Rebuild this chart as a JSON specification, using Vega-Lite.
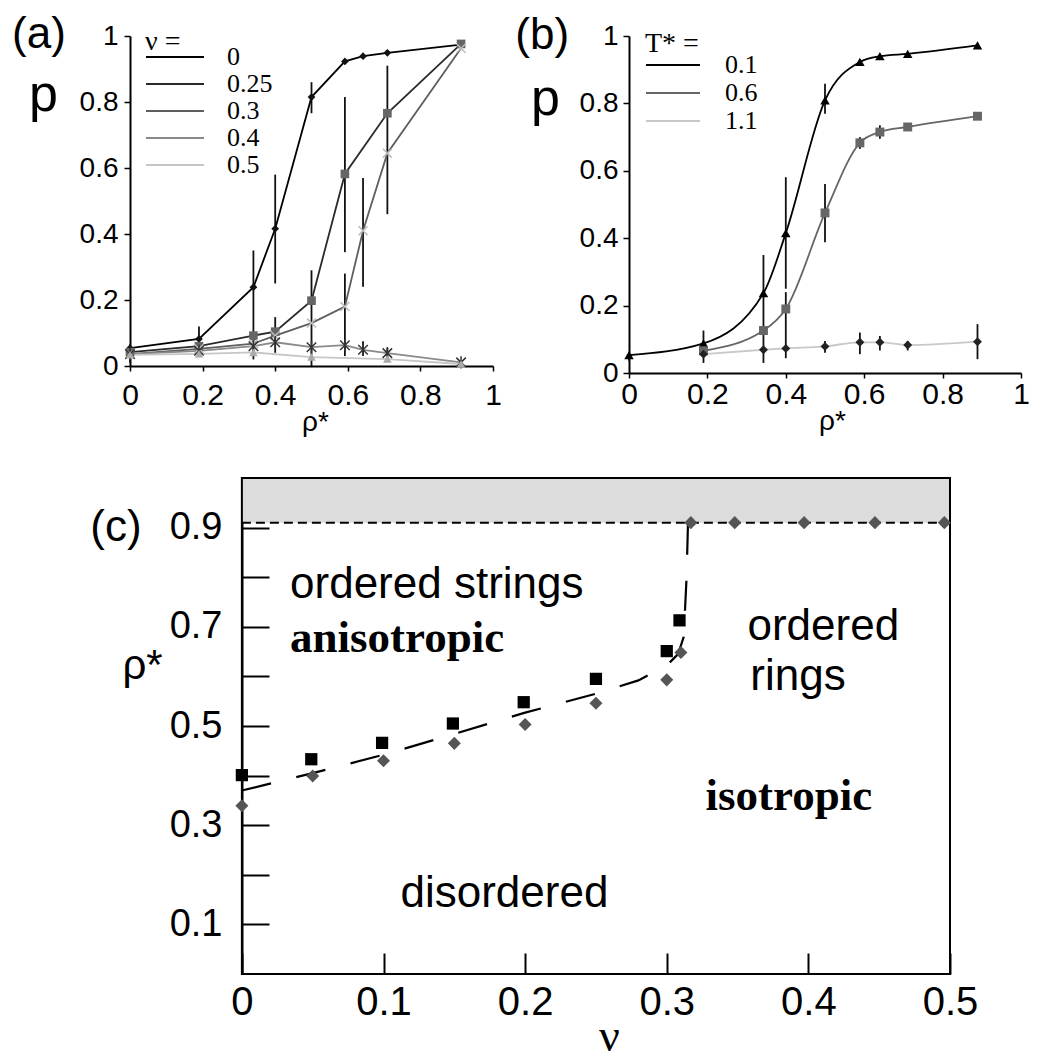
{
  "$schema": "https://vega.github.io/schema/vega-lite/v6.json",
  "background": "white",
  "padding": {"left": 12, "top": 13, "right": 4, "bottom": 0},
  "config": {
    "view": {"stroke": null},
    "font": "Liberation Sans",
    "axis": {"grid": false, "domainColor": "black", "tickColor": "black", "labelColor": "black", "titleColor": "black", "domainWidth": 2, "tickWidth": 1.5, "labelFont": "Liberation Sans", "titleFont": "Liberation Sans", "titleFontWeight": "normal", "labelFlush": false, "labelOverlap": false},
    "legend": {"labelColor": "black", "titleColor": "black"}
  },
  "datasets": {
    "a_curves": [
      {"nu": "0", "rho": 0, "p": 0.054}, {"nu": "0", "rho": 0.19, "p": 0.082}, {"nu": "0", "rho": 0.34, "p": 0.239}, {"nu": "0", "rho": 0.40, "p": 0.416}, {"nu": "0", "rho": 0.50, "p": 0.815}, {"nu": "0", "rho": 0.592, "p": 0.923}, {"nu": "0", "rho": 0.642, "p": 0.939}, {"nu": "0", "rho": 0.709, "p": 0.949}, {"nu": "0", "rho": 0.912, "p": 0.974},
      {"nu": "0.25", "rho": 0, "p": 0.042}, {"nu": "0.25", "rho": 0.19, "p": 0.06}, {"nu": "0.25", "rho": 0.34, "p": 0.092}, {"nu": "0.25", "rho": 0.40, "p": 0.104}, {"nu": "0.25", "rho": 0.50, "p": 0.198}, {"nu": "0.25", "rho": 0.592, "p": 0.582}, {"nu": "0.25", "rho": 0.709, "p": 0.766}, {"nu": "0.25", "rho": 0.912, "p": 0.976},
      {"nu": "0.3", "rho": 0, "p": 0.036}, {"nu": "0.3", "rho": 0.19, "p": 0.052}, {"nu": "0.3", "rho": 0.34, "p": 0.068}, {"nu": "0.3", "rho": 0.40, "p": 0.092}, {"nu": "0.3", "rho": 0.50, "p": 0.13}, {"nu": "0.3", "rho": 0.592, "p": 0.18}, {"nu": "0.3", "rho": 0.642, "p": 0.41}, {"nu": "0.3", "rho": 0.709, "p": 0.645}, {"nu": "0.3", "rho": 0.912, "p": 0.963},
      {"nu": "0.4", "rho": 0, "p": 0.036}, {"nu": "0.4", "rho": 0.19, "p": 0.046}, {"nu": "0.4", "rho": 0.34, "p": 0.06}, {"nu": "0.4", "rho": 0.40, "p": 0.072}, {"nu": "0.4", "rho": 0.50, "p": 0.057}, {"nu": "0.4", "rho": 0.592, "p": 0.063}, {"nu": "0.4", "rho": 0.642, "p": 0.049}, {"nu": "0.4", "rho": 0.709, "p": 0.039}, {"nu": "0.4", "rho": 0.912, "p": 0.011},
      {"nu": "0.5", "rho": 0, "p": 0.034}, {"nu": "0.5", "rho": 0.19, "p": 0.037}, {"nu": "0.5", "rho": 0.34, "p": 0.041}, {"nu": "0.5", "rho": 0.50, "p": 0.027}, {"nu": "0.5", "rho": 0.709, "p": 0.021}, {"nu": "0.5", "rho": 0.912, "p": 0.006}
    ],
    "a_err": [
      {"rho": 0, "p": 0.01, "p_hi": 0.066},
      {"rho": 0.19, "p": 0.04, "p_hi": 0.12},
      {"rho": 0.34, "p": 0.02, "p_hi": 0.35},
      {"rho": 0.40, "p": 0.25, "p_hi": 0.58},
      {"rho": 0.50, "p": 0.766, "p_hi": 0.86},
      {"rho": 0.40, "p": 0.04, "p_hi": 0.148},
      {"rho": 0.50, "p": 0.0, "p_hi": 0.29},
      {"rho": 0.592, "p": 0.345, "p_hi": 0.815},
      {"rho": 0.709, "p": 0.46, "p_hi": 0.91},
      {"rho": 0.592, "p": 0.03, "p_hi": 0.28},
      {"rho": 0.642, "p": 0.24, "p_hi": 0.57},
      {"rho": 0.642, "p": 0.03, "p_hi": 0.075},
      {"rho": 0.709, "p": 0.025, "p_hi": 0.055}
    ],
    "b_curves": [
      {"T": "0.1", "rho": 0, "p": 0.053}, {"T": "0.1", "rho": 0.19, "p": 0.088}, {"T": "0.1", "rho": 0.343, "p": 0.237}, {"T": "0.1", "rho": 0.40, "p": 0.415}, {"T": "0.1", "rho": 0.50, "p": 0.809}, {"T": "0.1", "rho": 0.589, "p": 0.923}, {"T": "0.1", "rho": 0.64, "p": 0.94}, {"T": "0.1", "rho": 0.711, "p": 0.947}, {"T": "0.1", "rho": 0.889, "p": 0.972},
      {"T": "0.6", "rho": 0.19, "p": 0.066}, {"T": "0.6", "rho": 0.343, "p": 0.126}, {"T": "0.6", "rho": 0.40, "p": 0.19}, {"T": "0.6", "rho": 0.50, "p": 0.475}, {"T": "0.6", "rho": 0.589, "p": 0.683}, {"T": "0.6", "rho": 0.64, "p": 0.715}, {"T": "0.6", "rho": 0.711, "p": 0.73}, {"T": "0.6", "rho": 0.889, "p": 0.762},
      {"T": "1.1", "rho": 0.19, "p": 0.056}, {"T": "1.1", "rho": 0.343, "p": 0.069}, {"T": "1.1", "rho": 0.40, "p": 0.073}, {"T": "1.1", "rho": 0.50, "p": 0.079}, {"T": "1.1", "rho": 0.589, "p": 0.091}, {"T": "1.1", "rho": 0.64, "p": 0.091}, {"T": "1.1", "rho": 0.711, "p": 0.083}, {"T": "1.1", "rho": 0.889, "p": 0.093}
    ],
    "b_err": [
      {"rho": 0, "p": 0.036, "p_hi": 0.06},
      {"rho": 0.19, "p": 0.03, "p_hi": 0.126},
      {"rho": 0.343, "p": 0.03, "p_hi": 0.35},
      {"rho": 0.40, "p": 0.25, "p_hi": 0.581},
      {"rho": 0.40, "p": 0.044, "p_hi": 0.24},
      {"rho": 0.50, "p": 0.769, "p_hi": 0.858},
      {"rho": 0.50, "p": 0.388, "p_hi": 0.561},
      {"rho": 0.50, "p": 0.06, "p_hi": 0.095},
      {"rho": 0.589, "p": 0.056, "p_hi": 0.12},
      {"rho": 0.589, "p": 0.665, "p_hi": 0.70},
      {"rho": 0.64, "p": 0.067, "p_hi": 0.11},
      {"rho": 0.64, "p": 0.695, "p_hi": 0.735},
      {"rho": 0.711, "p": 0.067, "p_hi": 0.095},
      {"rho": 0.889, "p": 0.041, "p_hi": 0.145}
    ],
    "c_squares": [
      {"nu": 0, "rho": 0.401}, {"nu": 0.049, "rho": 0.433}, {"nu": 0.099, "rho": 0.466}, {"nu": 0.149, "rho": 0.505}, {"nu": 0.199, "rho": 0.548}, {"nu": 0.25, "rho": 0.595}, {"nu": 0.30, "rho": 0.651}, {"nu": 0.309, "rho": 0.713}
    ],
    "c_diamonds": [
      {"nu": 0, "rho": 0.339}, {"nu": 0.05, "rho": 0.399}, {"nu": 0.1, "rho": 0.43}, {"nu": 0.15, "rho": 0.465}, {"nu": 0.2, "rho": 0.503}, {"nu": 0.25, "rho": 0.546}, {"nu": 0.30, "rho": 0.593}, {"nu": 0.31, "rho": 0.648},
      {"nu": 0.317, "rho": 0.91}, {"nu": 0.348, "rho": 0.91}, {"nu": 0.397, "rho": 0.91}, {"nu": 0.447, "rho": 0.91}, {"nu": 0.496, "rho": 0.91}
    ],
    "c_boundary": [
      {"nu": 0, "rho": 0.37}, {"nu": 0.05, "rho": 0.405}, {"nu": 0.1, "rho": 0.442}, {"nu": 0.15, "rho": 0.484}, {"nu": 0.2, "rho": 0.527}, {"nu": 0.25, "rho": 0.565}, {"nu": 0.28, "rho": 0.592}, {"nu": 0.30, "rho": 0.622}, {"nu": 0.308, "rho": 0.645}, {"nu": 0.312, "rho": 0.68}, {"nu": 0.314, "rho": 0.8}, {"nu": 0.315, "rho": 0.91}
    ],
    "c_labels_sans": [
      {"label": "ordered strings", "nu": 0.034, "rho": 0.759},
      {"label": "ordered", "nu": 0.357, "rho": 0.673},
      {"label": "rings", "nu": 0.359, "rho": 0.573},
      {"label": "disordered", "nu": 0.112, "rho": 0.1355}
    ],
    "c_labels_bold": [
      {"label": "anisotropic", "nu": 0.034, "rho": 0.65},
      {"label": "isotropic", "nu": 0.3274, "rho": 0.33}
    ]
  },
  "vconcat": [
    {
      "hconcat": [
        {
          "width": 363,
          "height": 330,
          "layer": [
            {
              "encoding": {
                "x": {"field": "rho", "type": "quantitative", "scale": {"domain": [0, 1], "nice": false, "zero": false},
                  "axis": {"values": [0, 0.2, 0.4, 0.6, 0.8, 1], "format": "~g", "labelFontSize": 30, "labelPadding": 9, "tickSize": 5, "title": "ρ*", "titleFontSize": 28, "titleX": 185, "titleY": 64, "titleBaseline": "alphabetic", "titleAlign": "center"}},
                "y": {"field": "p", "type": "quantitative", "scale": {"domain": [0, 1], "nice": false, "zero": false},
                  "axis": {"values": [0, 0.1, 0.2, 0.3, 0.4, 0.5, 0.6, 0.7, 0.8, 0.9, 1], "format": "~g", "labelExpr": "round(datum.value*10) % 2 == 0 ? datum.label : ''", "labelFontSize": 28, "labelPadding": 6, "tickSize": 6, "title": "p", "titleAngle": 0, "titleFontSize": 52, "titleX": -87, "titleY": 74, "titleAlign": "center", "titleBaseline": "alphabetic"}}
              },
              "layer": [
                {"data": {"name": "a_err"}, "mark": {"type": "rule", "color": "#111111", "strokeWidth": 1.8}, "encoding": {"y2": {"field": "p_hi"}}},
                {"data": {"name": "a_curves"}, "mark": {"type": "line", "strokeWidth": 1.8},
                  "encoding": {"color": {"field": "nu", "type": "nominal", "scale": {"domain": ["0", "0.25", "0.3", "0.4", "0.5"], "range": ["#000000", "#2a2a2a", "#5e5e5e", "#8a8a8a", "#c6c6c6"]},
                    "legend": {"orient": "none", "legendX": 15, "legendY": -8, "title": "ν =", "titleFont": "Liberation Serif", "titleFontSize": 28, "titleFontWeight": "normal", "titlePadding": -12, "labelFont": "Liberation Serif", "labelFontSize": 26, "symbolType": "stroke", "symbolSize": 3364, "symbolStrokeWidth": 2, "labelOffset": 22, "rowPadding": 1, "clipHeight": 26}}}},
                {"data": {"name": "a_curves"}, "transform": [{"filter": "datum.nu == '0'"}], "mark": {"type": "point", "shape": "diamond", "filled": true, "color": "#111111", "size": 60, "opacity": 1}},
                {"data": {"name": "a_curves"}, "transform": [{"filter": "datum.nu == '0.25'"}], "mark": {"type": "point", "shape": "square", "filled": true, "color": "#666666", "size": 75, "opacity": 1}},
                {"data": {"name": "a_curves"}, "transform": [{"filter": "datum.nu == '0.3'"}], "mark": {"type": "point", "shape": "M-1,-1L1,1M-1,1L1,-1", "filled": false, "color": "#bbbbbb", "strokeWidth": 1.5, "size": 80, "opacity": 1}},
                {"data": {"name": "a_curves"}, "transform": [{"filter": "datum.nu == '0.4'"}], "mark": {"type": "point", "shape": "M-1,-1L1,1M-1,1L1,-1M0,-1.3L0,1.3", "filled": false, "color": "#333333", "strokeWidth": 1.5, "size": 90, "opacity": 1}},
                {"data": {"name": "a_curves"}, "transform": [{"filter": "datum.nu == '0.5'"}], "mark": {"type": "point", "shape": "triangle-up", "filled": true, "color": "#aaaaaa", "size": 75, "opacity": 1}}
              ]
            },
            {"data": {"values": [{"label": "(a)"}]}, "mark": {"type": "text", "align": "left", "baseline": "alphabetic", "fontSize": 44, "font": "Liberation Sans", "color": "black"},
              "encoding": {"x": {"datum": -0.325}, "y": {"datum": 0.963}, "text": {"field": "label"}}}
          ]
        },
        {
          "width": 392,
          "height": 337,
          "layer": [
            {
              "encoding": {
                "x": {"field": "rho", "type": "quantitative", "scale": {"domain": [0, 1], "nice": false, "zero": false},
                  "axis": {"values": [0, 0.2, 0.4, 0.6, 0.8, 1], "format": "~g", "labelFontSize": 30, "labelPadding": 1, "tickSize": 5, "title": "ρ*", "titleFontSize": 28, "titleX": 203, "titleY": 56, "titleBaseline": "alphabetic", "titleAlign": "center"}},
                "y": {"field": "p", "type": "quantitative", "scale": {"domain": [0, 1], "nice": false, "zero": false},
                  "axis": {"values": [0, 0.1, 0.2, 0.3, 0.4, 0.5, 0.6, 0.7, 0.8, 0.9, 1], "format": "~g", "labelExpr": "round(datum.value*10) % 2 == 0 ? datum.label : ''", "labelFontSize": 28, "labelPadding": 5, "tickSize": 6, "title": "p", "titleAngle": 0, "titleFontSize": 52, "titleX": -84, "titleY": 78, "titleAlign": "center", "titleBaseline": "alphabetic"}}
              },
              "layer": [
                {"data": {"name": "b_err"}, "mark": {"type": "rule", "color": "#111111", "strokeWidth": 1.8}, "encoding": {"y2": {"field": "p_hi"}}},
                {"data": {"name": "b_curves"}, "mark": {"type": "line", "strokeWidth": 1.8, "interpolate": "monotone"},
                  "encoding": {"color": {"field": "T", "type": "nominal", "scale": {"domain": ["0.1", "0.6", "1.1"], "range": ["#000000", "#666666", "#c8c8c8"]},
                    "legend": {"orient": "none", "legendX": 16, "legendY": -6, "title": "T* =", "titleFont": "Liberation Serif", "titleFontSize": 28, "titleFontWeight": "normal", "titlePadding": -6, "labelFont": "Liberation Serif", "labelFontSize": 26, "symbolType": "stroke", "symbolSize": 2916, "symbolStrokeWidth": 2, "labelOffset": 24, "rowPadding": 2, "clipHeight": 26}}}},
                {"data": {"name": "b_curves"}, "transform": [{"filter": "datum.T == '0.1'"}], "mark": {"type": "point", "shape": "triangle-up", "filled": true, "color": "#000000", "size": 90, "opacity": 1}},
                {"data": {"name": "b_curves"}, "transform": [{"filter": "datum.T == '0.6'"}], "mark": {"type": "point", "shape": "square", "filled": true, "color": "#666666", "size": 80, "opacity": 1}},
                {"data": {"name": "b_curves"}, "transform": [{"filter": "datum.T == '1.1'"}], "mark": {"type": "point", "shape": "diamond", "filled": true, "color": "#222222", "size": 80, "opacity": 1}}
              ]
            },
            {"data": {"values": [{"label": "(b)"}]}, "mark": {"type": "text", "align": "left", "baseline": "alphabetic", "fontSize": 44, "font": "Liberation Sans", "color": "black"},
              "encoding": {"x": {"datum": -0.29}, "y": {"datum": 0.962}, "text": {"field": "label"}}}
          ]
        }
      ],
      "spacing": 13,
      "resolve": {"scale": {"color": "independent", "x": "independent", "y": "independent"}}
    },
    {
      "width": 820,
      "height": 496,
      "layer": [
        {"data": {"values": [{"region": "upper"}]}, "mark": {"type": "rect", "color": "#dcdcdc"},
          "encoding": {"x": {"datum": 0}, "x2": {"datum": 0.5}, "y": {"datum": 0.91}, "y2": {"datum": 1}}},
        {"data": {"values": [{"region": "frame"}]}, "mark": {"type": "rect", "fill": "transparent", "stroke": "black", "strokeWidth": 2},
          "encoding": {"x": {"datum": 0}, "x2": {"datum": 0.5}, "y": {"datum": 0}, "y2": {"datum": 1}}},
        {"data": {"values": [{"region": "limit"}]}, "mark": {"type": "rule", "color": "black", "strokeWidth": 2, "strokeDash": [9, 5]},
          "encoding": {"x": {"datum": 0}, "x2": {"datum": 0.5}, "y": {"datum": 0.91}}},
        {
          "encoding": {
            "x": {"field": "nu", "type": "quantitative", "scale": {"domain": [-0.079, 0.5], "nice": false, "zero": false},
              "axis": {"values": [0, 0.1, 0.2, 0.3, 0.4, 0.5], "format": "~g", "domain": false, "labelFontSize": 40, "tickSize": -21, "labelPadding": 29, "tickWidth": 2, "title": "ν", "titleFont": "Liberation Serif", "titleFontSize": 46, "titleX": 479, "titleY": 76, "titleBaseline": "alphabetic", "titleAlign": "center"}},
            "y": {"field": "rho", "type": "quantitative", "scale": {"domain": [0, 1], "nice": false, "zero": false},
              "axis": {"values": [0.1, 0.2, 0.3, 0.4, 0.5, 0.6, 0.7, 0.8, 0.9], "format": "~g", "offset": -112, "labelExpr": "round(datum.value*10) % 2 == 1 ? datum.label : ''", "labelFontSize": 38, "tickSize": -27, "labelPadding": 47, "tickWidth": 2, "title": "ρ*", "titleAngle": 0, "titleFontSize": 42, "titleX": -100, "titleY": 200, "titleAlign": "center", "titleBaseline": "alphabetic"}}
          },
          "layer": [
            {"data": {"name": "c_boundary"}, "mark": {"type": "line", "color": "black", "strokeWidth": 2.2, "strokeDash": [30, 26]}},
            {"data": {"name": "c_squares"}, "mark": {"type": "point", "shape": "square", "filled": true, "color": "black", "size": 150, "opacity": 1}},
            {"data": {"name": "c_diamonds"}, "mark": {"type": "point", "shape": "diamond", "filled": true, "color": "#555555", "size": 170, "opacity": 1}},
            {"data": {"name": "c_labels_sans"}, "mark": {"type": "text", "align": "left", "baseline": "alphabetic", "fontSize": 44, "font": "Liberation Sans", "color": "black"},
              "encoding": {"text": {"field": "label"}}},
            {"data": {"name": "c_labels_bold"}, "mark": {"type": "text", "align": "left", "baseline": "alphabetic", "fontSize": 45, "font": "Liberation Serif", "fontWeight": "bold", "color": "black"},
              "encoding": {"text": {"field": "label"}}}
          ]
        },
        {"data": {"values": [{"label": "(c)"}]}, "mark": {"type": "text", "align": "left", "baseline": "alphabetic", "fontSize": 44, "font": "Liberation Sans", "color": "black"},
          "encoding": {"x": {"datum": -0.107}, "y": {"datum": 0.873}, "text": {"field": "label"}}}
      ]
    }
  ],
  "spacing": 41,
  "center": false,
  "resolve": {"scale": {"color": "independent", "x": "independent", "y": "independent"}}
}
